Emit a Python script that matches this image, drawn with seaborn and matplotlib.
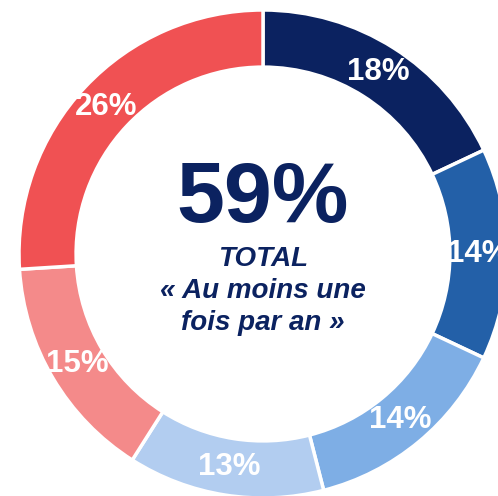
import matplotlib
matplotlib.use("Agg")
import matplotlib.pyplot as plt
import seaborn as sns

# slice values, clockwise from the top
values = [18, 14, 14, 13, 15, 26]
colors = ["#0b2260", "#2360a8", "#7eaee5", "#b2cdf0", "#f48a8a", "#f05153"]
total_value = "59%"
total_lines = ["TOTAL", "« Au moins une", "fois par an »"]

sns.set_theme(style="white")
plt.rcParams["font.family"] = ["Liberation Sans", "DejaVu Sans"]

navy = "#0b2260"

fig = plt.figure(figsize=(4.98, 4.96), dpi=100)
ax = fig.add_axes([0, 0, 1, 1])

wedges, texts, autotexts = ax.pie(
    values,
    colors=colors,
    startangle=90,
    counterclock=False,
    radius=1,
    autopct=lambda p: f"{p:.0f}%",
    pctdistance=0.883,
    wedgeprops=dict(width=0.234, edgecolor="white", linewidth=2.5),
)
for t in autotexts:
    t.set_color("white")
    t.set_fontsize(22.5)
    t.set_fontweight("bold")

# center text
ax.text(0, 0.131, total_value, ha="center", va="baseline",
        fontsize=62, fontweight="bold", color=navy)
for line, y in zip(total_lines, [-0.049, -0.180, -0.311]):
    ax.text(0, y, line, ha="center", va="baseline", fontsize=20,
            fontweight="bold", fontstyle="italic", color=navy)

# the donut is cropped on the right and bottom
ax.set_xlim(-263 / 244, 235 / 244)
ax.set_ylim(-242 / 244, 254 / 244)
ax.set_aspect("auto")
ax.axis("off")

fig.savefig("out.png", dpi=100)
